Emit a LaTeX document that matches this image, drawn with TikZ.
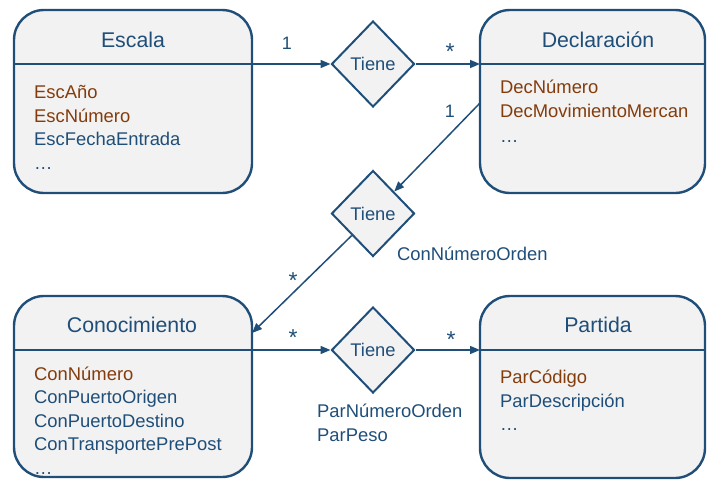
\documentclass[tikz,border=0pt]{standalone}
\usepackage{fontspec}
\setmainfont{Liberation Sans}
\usetikzlibrary{shapes.geometric,arrows.meta}
\definecolor{erblue}{HTML}{1F4E79}
\definecolor{erbrown}{HTML}{843C0C}
\definecolor{erfill}{HTML}{F2F2F2}
\tikzset{
  entity/.style={draw=erblue, fill=erfill, line width=2.4pt, rounded corners=30pt, inner sep=0pt},
  rel/.style={draw=erblue, fill=erfill, line width=2pt, shape=diamond, inner sep=0pt,
    minimum width=83pt, minimum height=86pt, text=erblue, font=\fontsize{18.3}{20}\selectfont},
  title/.style={text=erblue, inner sep=0pt, anchor=base, font=\fontsize{21.3}{24}\selectfont},
  attr/.style={inner sep=0pt, anchor=base west, text=erblue, font=\fontsize{18.4}{24}\selectfont},
  key/.style={attr, text=erbrown},
  card/.style={inner sep=0pt, text=erblue, font=\fontsize{18}{20}\selectfont},
  star/.style={inner sep=0pt, text=erblue, font=\fontsize{23}{24}\selectfont},
  conn/.style={draw=erblue, line width=1.5pt, -{Triangle[length=10pt,width=8pt]}},
  hline/.style={draw=erblue, line width=2.4pt}
}
\begin{document}
\begin{tikzpicture}[x=1pt,y=-1pt]
\useasboundingbox (0,0) rectangle (707,480);
% entities
\node[entity, minimum width=238pt, minimum height=183pt] (esc) at (133,101.5) {};
\node[entity, minimum width=225pt, minimum height=183pt] (dec) at (592.5,101.5) {};
\node[entity, minimum width=238pt, minimum height=181pt] (con) at (133,386.5) {};
\node[entity, minimum width=225pt, minimum height=182pt] (par) at (592.5,387) {};
% header lines
\coordinate (escL) at (14,64); \coordinate (escR) at (252,64);
\coordinate (decL) at (480,64); \coordinate (decR) at (705,64);
\coordinate (conL) at (14,350); \coordinate (conR) at (252,350);
\coordinate (parL) at (480,350); \coordinate (parR) at (705,350);
\draw[hline] (escL) -- (escR);
\draw[hline] (decL) -- (decR);
\draw[hline] (conL) -- (conR);
\draw[hline] (parL) -- (parR);
% titles
\node[title] (escT) at (133,47) {Escala};
\node[title] (decT) at (598,47) {Declaración};
\node[title] (conT) at (132,332) {Conocimiento};
\node[title] (parT) at (598,332) {Partida};
% attributes
\node[key]  (esc1) at (34,98) {EscAño};
\node[key]  (esc2) at (34,122) {EscNúmero};
\node[attr] (esc3) at (34,145.5) {EscFechaEntrada};
\node[attr] (esc4) at (34,169) {\dots};
\node[key]  (dec1) at (500,93) {DecNúmero};
\node[key]  (dec2) at (500,117.5) {DecMovimientoMercan};
\node[attr] (dec3) at (500,142) {\dots};
\node[key]  (con1) at (34,380) {ConNúmero};
\node[attr] (con2) at (34,403.5) {ConPuertoOrigen};
\node[attr] (con3) at (34,427) {ConPuertoDestino};
\node[attr] (con4) at (34,450.5) {ConTransportePrePost};
\node[attr] (con5) at (34,474) {\dots};
\node[key]  (par1) at (500,383) {ParCódigo};
\node[attr] (par2) at (500,407) {ParDescripción};
\node[attr] (par3) at (500,430) {\dots};
% relationships
\node[rel] (d1) at (373,64) {Tiene};
\node[rel] (d2) at (373,213.5) {Tiene};
\node[rel] (d3) at (373,350) {Tiene};
% connectors
\draw[conn] (escR) -- (d1.west);
\draw[conn] (d1.east) -- (decL);
\coordinate (decS) at (480,103);
\draw[conn] (decS) -- (d2.north east);
\coordinate (conE) at (252,333);
\draw[conn] (d2.south west) -- (conE);
\draw[conn] (conR) -- (d3.west);
\draw[conn] (d3.east) -- (parL);
% cardinalities
\node[card] (c1) at (287,43) {1};
\node[star] (c2) at (450,52) {*};
\node[card] (c3) at (450,111) {1};
\node[star] (c4) at (293,281) {*};
\node[star] (c5) at (293,338) {*};
\node[star] (c6) at (451,340) {*};
% relationship attributes
\node[attr] (ra1) at (397,260) {ConNúmeroOrden};
\node[attr] (ra2) at (317,417) {ParNúmeroOrden};
\node[attr] (ra3) at (317,441) {ParPeso};
\end{tikzpicture}
\end{document}
